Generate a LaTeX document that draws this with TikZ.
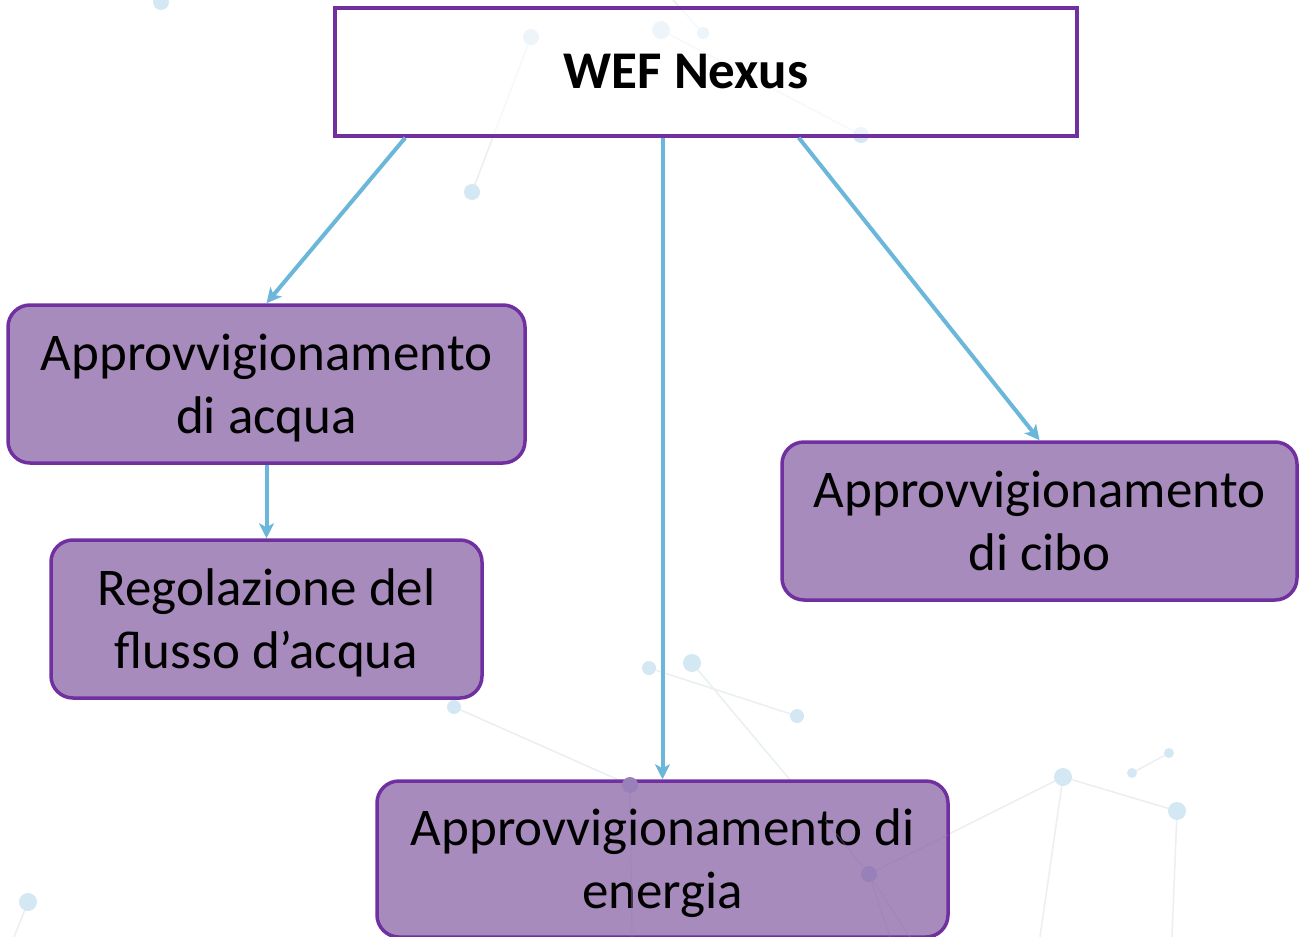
\documentclass[tikz,border=0pt]{standalone}
\usepackage{fontspec}
\setmainfont{Carlito}
\usetikzlibrary{arrows.meta,calc}
\definecolor{bord}{RGB}{112,48,160}
\definecolor{boxfill}{RGB}{168,139,189}
\definecolor{arrc}{RGB}{107,183,218}
\definecolor{dotc}{RGB}{212,232,244}
\definecolor{linec}{RGB}{233,239,242}
\definecolor{dotin}{RGB}{152,128,184}
\newcommand{\lowtxt}[1]{\raisebox{-5pt}[\height][\depth]{\begin{tabular}{@{}c@{}}#1\end{tabular}}}
\tikzset{
  box/.style={draw=bord, line width=3.5pt, fill=boxfill, rounded corners=22pt, align=center,
    inner sep=0pt, font=\fontsize{53}{63}\selectfont},
  topbox/.style={draw=bord, line width=3.5pt, fill=white, fill opacity=0.6, text opacity=1, inner sep=0pt,
    font=\fontsize{53}{62}\selectfont\bfseries},
  arr/.style={draw=arrc, line width=4pt, -{Stealth[length=15pt,width=15pt,inset=4pt]}},
  bgl/.style={draw=linec, line width=1.5pt},
  bgd/.style={fill=dotc},
  bgi/.style={fill=dotin}
}
\begin{document}
\begin{tikzpicture}[x=1pt,y=-1pt]
\useasboundingbox[fill=white] (0,0) rectangle (1299,937);
% background network
\draw[bgl] (531,37) -- (472,192);
\draw[bgl] (661,30) -- (861,135);
\draw[bgl] (673,0) -- (703,33);
\draw[bgl] (649,668) -- (797,716);
\draw[bgl] (692,663) -- (869,874) -- (910,937);
\draw[bgl] (869,874) -- (890,937);
\draw[bgl] (454,707) -- (630,785) -- (632,937);
\draw[bgl] (869,874) -- (1063,777) -- (1177,811) -- (1172,937);
\draw[bgl] (1063,777) -- (1040,937);
\draw[bgl] (1132,773) -- (1169,753);
\draw[bgl] (28,902) -- (14,937);
\foreach \x/\y/\r in {161/2/8, 531/37/8, 661/30/9, 703/33/6, 861/135/8, 472/192/8,
  649/668/7, 692/663/9, 797/716/7, 454/707/7, 1063/777/9, 1177/811/9, 1132/773/5,
  1169/753/5, 28/902/9}
  \fill[bgd] (\x,\y) circle (\r);
% nodes
\node[topbox, minimum width=742pt, minimum height=128pt] (top) at (706,72) {WEF Nexus\rule{40pt}{0pt}};
\node[box, minimum width=517pt, minimum height=158pt] (water) at (266.5,384)
  {\lowtxt{Approvvigionamento\\di acqua}};
\node[box, minimum width=515pt, minimum height=158pt] (food) at (1039.5,521)
  {\lowtxt{Approvvigionamento\\di cibo}};
\node[box, minimum width=431pt, minimum height=158pt] (flow) at (266.5,619)
  {\lowtxt{Regolazione del\\flusso d’acqua}};
\node[box, minimum width=571pt, minimum height=156pt] (energy) at (662.5,859)
  {\lowtxt{Approvvigionamento di\\energia}};
% network seen through energy box
\draw[dotin, line width=1.2pt, opacity=0.4] (630,785) -- (632,937);
\draw[dotin, line width=1.2pt, opacity=0.4] (869,874) -- (910,937);
\draw[dotin, line width=1.2pt, opacity=0.4] (869,874) -- (890,937);
\draw[dotin, line width=1.2pt, opacity=0.4] (869,874) -- (948,835);
\draw[dotin, line width=1.2pt, opacity=0.4] (869,874) -- (825,820);
\fill[bgi] (630,785) circle (8);
\fill[bgi] (869,874) circle (8);
% connectors
\draw[arr] ([xshift=72pt]top.south west) -- (water.north);
\draw[arr] (energy.north |- top.south) -- (energy.north);
\draw[arr] ([xshift=-280pt]top.south east) -- (food.north);
\draw[arr] (water.south) -- (flow.north);
\end{tikzpicture}
\end{document}
